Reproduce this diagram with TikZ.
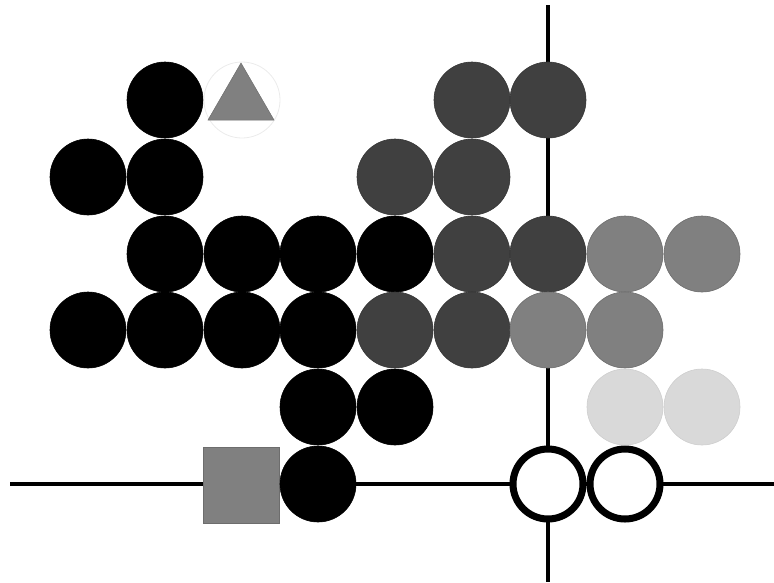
\documentclass[tikz,border=0pt]{standalone}
\definecolor{dkgray}{HTML}{404040}
\definecolor{mdgray}{HTML}{808080}
\definecolor{ltgray}{HTML}{D9D9D9}
\tikzset{
  dot/.style={circle,minimum size=76pt,inner sep=0pt,line width=0.6pt},
  blk/.style={dot,fill=black,draw=black},
  dk/.style={dot,fill=dkgray,draw=dkgray!85!black},
  md/.style={dot,fill=mdgray,draw=mdgray!85!black},
  lt/.style={dot,fill=ltgray,draw=ltgray!95!black},
  opn/.style={circle,minimum size=70pt,inner sep=0pt,line width=7pt,draw=black,fill=white},
  axis/.style={line width=4pt,draw=black}
}
\begin{document}
\begin{tikzpicture}[x=1pt,y=-1pt]
\useasboundingbox (0,0) rectangle (774,582);
% axes
\coordinate (hl) at (10,484);
\coordinate (hr) at (774,484);
\coordinate (vt) at (548,5);
\coordinate (vb) at (548,582);
\draw[axis] (hl) -- (hr);
\draw[axis] (vt) -- (vb);
% row 1
\node[blk] (r1c2) at (165,100) {};
\node[dot,draw=black!8,line width=0.8pt] (r1c3) at (242,100) {};
\filldraw[fill=mdgray,draw=mdgray!85!black,line width=0.5pt] (208,120) -- (241,63) -- (274,120) -- cycle;
\node[dk] (r1c6) at (472,100) {};
\node[dk] (r1c7) at (548,100) {};
% row 2
\node[blk] (r2c1) at (88,177) {};
\node[blk] (r2c2) at (165,177) {};
\node[dk] (r2c5) at (395,177) {};
\node[dk] (r2c6) at (472,177) {};
% row 3
\node[blk] (r3c2) at (165,254) {};
\node[blk] (r3c3) at (242,254) {};
\node[blk] (r3c4) at (318,254) {};
\node[blk] (r3c5) at (395,254) {};
\node[dk] (r3c6) at (472,254) {};
\node[dk] (r3c7) at (548,254) {};
\node[md] (r3c8) at (625,254) {};
\node[md] (r3c9) at (702,254) {};
% row 4
\node[blk] (r4c1) at (88,330) {};
\node[blk] (r4c2) at (165,330) {};
\node[blk] (r4c3) at (242,330) {};
\node[blk] (r4c4) at (318,330) {};
\node[dk] (r4c5) at (395,330) {};
\node[dk] (r4c6) at (472,330) {};
\node[md] (r4c7) at (548,330) {};
\node[md] (r4c8) at (625,330) {};
% row 5
\node[blk] (r5c4) at (318,407) {};
\node[blk] (r5c5) at (395,407) {};
\node[lt] (r5c8) at (625,407) {};
\node[lt] (r5c9) at (702,407) {};
% row 6
\node[rectangle,minimum size=76pt,inner sep=0pt,fill=mdgray,draw=mdgray!85!black,line width=0.6pt] (sq) at (241.5,485) {};
\node[blk] (r6c4) at (318,484) {};
\node[opn] (o1) at (548,484) {};
\node[opn] (o2) at (625,484) {};
\end{tikzpicture}
\end{document}
